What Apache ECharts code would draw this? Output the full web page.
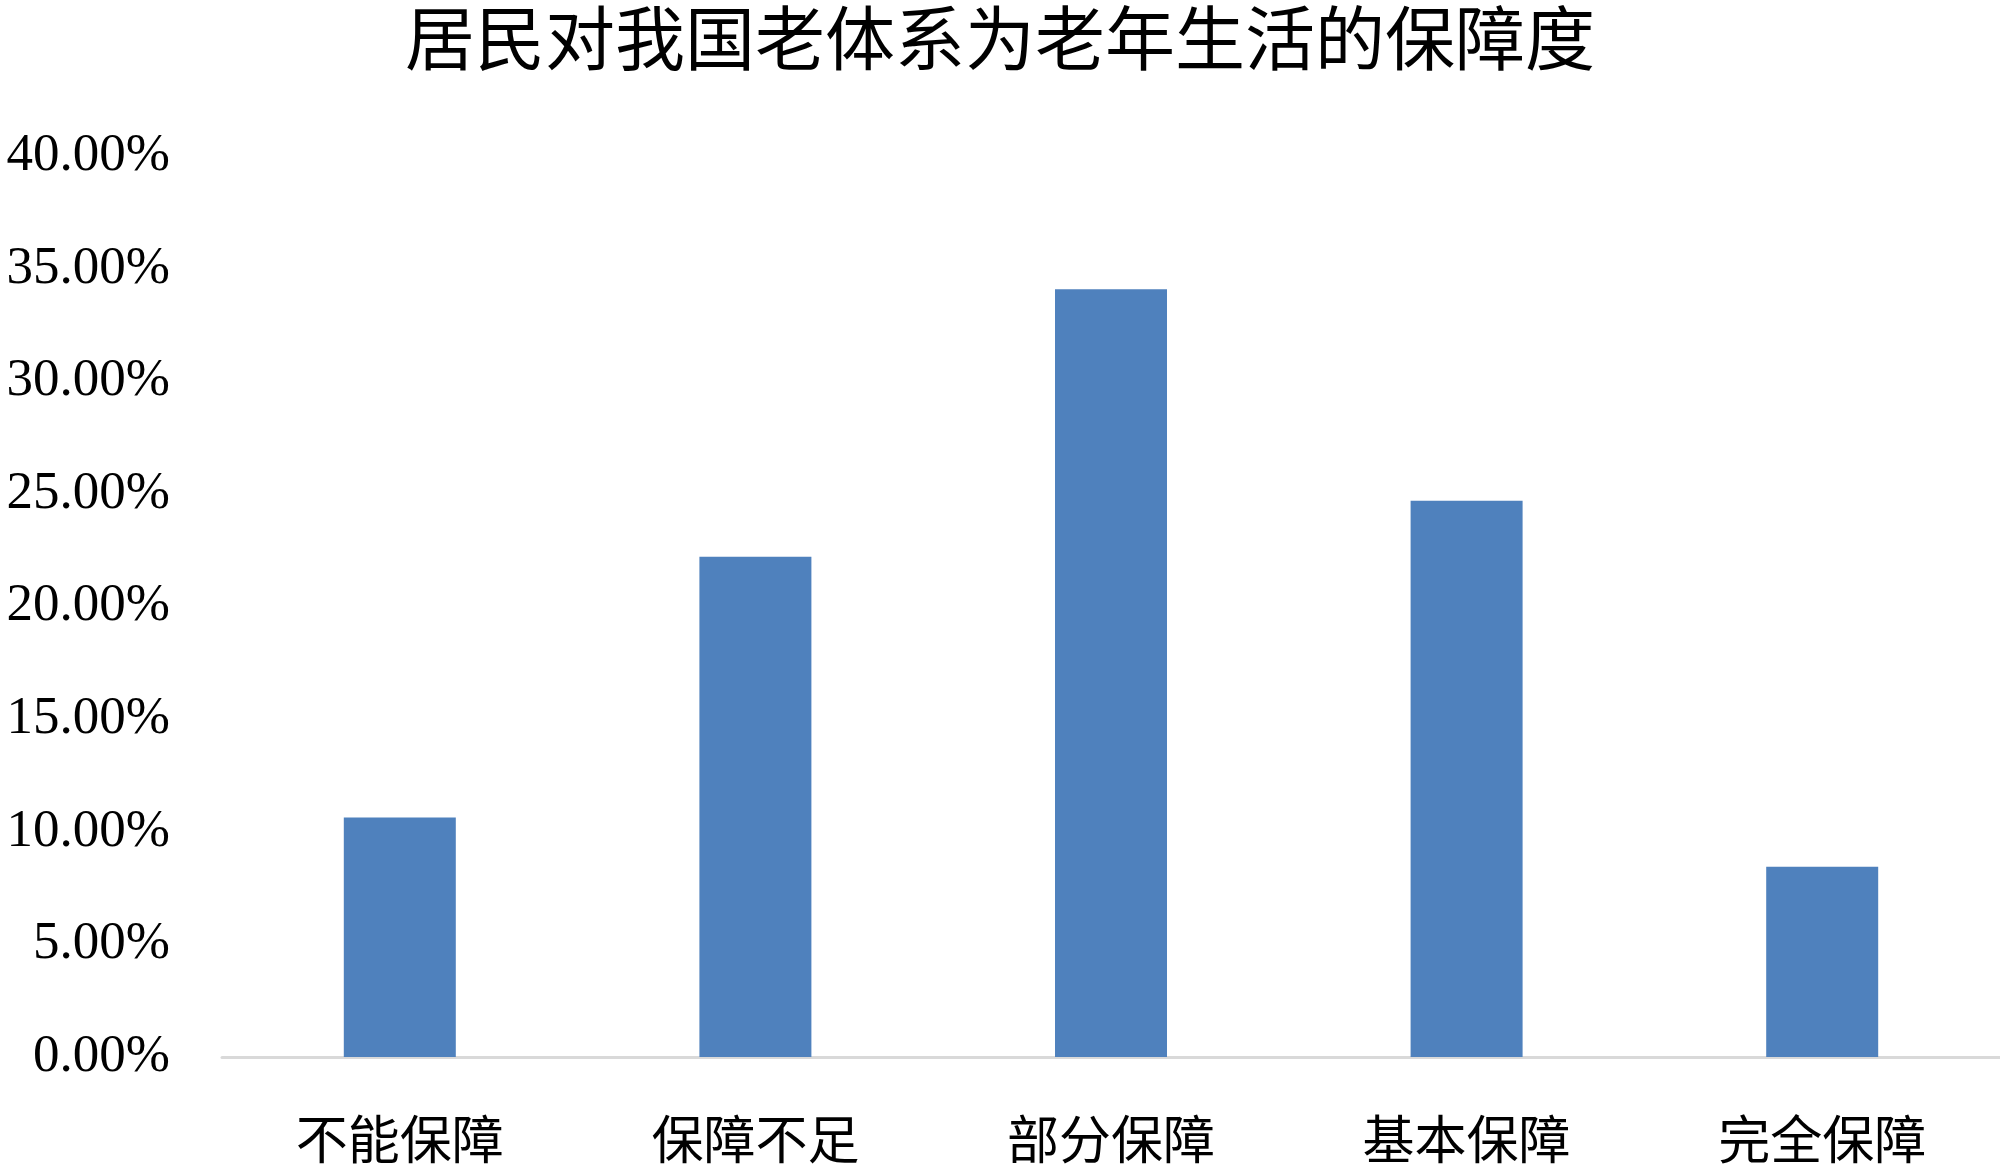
<!DOCTYPE html>
<html>
<head>
<meta charset="utf-8">
<script src="https://cdn.jsdelivr.net/npm/echarts@6/dist/echarts.min.js"></script>
<style>
  html, body { margin: 0; padding: 0; background: #fff; }
  #chart { width: 2000px; height: 1176px; }
</style>
</head>
<body>
<div id="chart"></div>
<script>
// 数据
const categories = ['不能保障', '保障不足', '部分保障', '基本保障', '完全保障'];
const shares = [0.1063, 0.2221, 0.3408, 0.2470, 0.0845];
const titleText = '居民对我国老体系为老年生活的保障度';

const serifFont = '"Liberation Serif", "Noto Sans CJK SC", serif';
const cjkFont = '"Noto Sans CJK SC", "Liberation Serif", sans-serif';

const chart = echarts.init(document.getElementById('chart'));

const option = {
  backgroundColor: '#ffffff',
  animation: false,
  title: {
    text: titleText,
    left: 'center',
    top: -2,
    textStyle: {
      fontFamily: cjkFont,
      fontSize: 70,
      fontWeight: 'normal',
      color: '#000'
    }
  },
  grid: {
    left: 222,
    right: 0,
    top: 156,
    bottom: 119,
    containLabel: false
  },
  xAxis: {
    type: 'category',
    data: categories,
    axisLine: {
      lineStyle: { color: '#d9d9d9', width: 3 }
    },
    axisTick: { show: false },
    axisLabel: {
      fontFamily: cjkFont,
      fontSize: 52,
      color: '#000',
      margin: 56,
      interval: 0
    }
  },
  yAxis: {
    type: 'value',
    min: 0,
    max: 0.4,
    interval: 0.05,
    axisLine: { show: false },
    axisTick: { show: false },
    splitLine: { show: false },
    axisLabel: {
      fontFamily: serifFont,
      fontSize: 53,
      color: '#000',
      margin: 52,
      padding: [4, 0, 0, 0],
      formatter: v => (v * 100).toFixed(2) + '%'
    }
  },
  series: [
    {
      type: 'bar',
      data: shares,
      barWidth: 112,
      itemStyle: { color: '#4f81bd' }
    }
  ]
};

chart.setOption(option);
</script>
</body>
</html>
